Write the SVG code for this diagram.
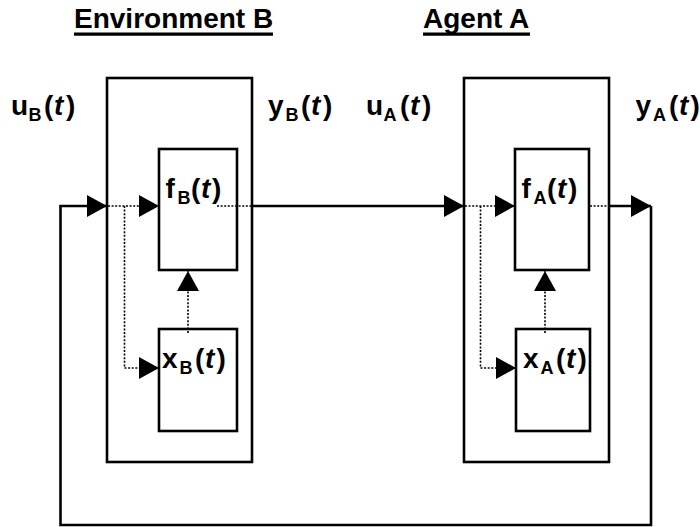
<svg xmlns="http://www.w3.org/2000/svg" width="700" height="527" viewBox="0 0 700 527">
  <style>
    .box { fill: none; stroke: #000; stroke-width: 2.6; }
    .solid { fill: none; stroke: #000; stroke-width: 2.6; }
    .dot { fill: none; stroke: #000; stroke-width: 1.6; stroke-dasharray: 2 1.6; }
    .title { font-family: "Liberation Sans", Arial, sans-serif; font-weight: bold; font-size: 28px; fill: #000; }
    .lbl { font-family: "Liberation Sans", Arial, sans-serif; font-weight: bold; font-size: 28px; fill: #000; }
    .sub { font-size: 18px; }
    .it { font-style: italic; }
  </style>
  <defs>
    <marker id="arrow" viewBox="0 0 20 22" markerWidth="20" markerHeight="22" refX="20" refY="11" markerUnits="userSpaceOnUse" orient="auto">
      <path d="M0,0 L20,11 L0,22 Z" fill="#000"/>
    </marker>
  </defs>
  <rect width="700" height="527" fill="#fff"/>

  <!-- titles -->
  <g id="title-env">
    <text class="title" x="74" y="28">Environment B</text>
    <line x1="74" y1="34.2" x2="273" y2="34.2" stroke="#000" stroke-width="3.2"/>
  </g>
  <g id="title-agent">
    <text class="title" x="423" y="28">Agent A</text>
    <line x1="423" y1="34.2" x2="530" y2="34.2" stroke="#000" stroke-width="3.2"/>
  </g>

  <!-- signal labels -->
  <g id="label-uB">
    <text class="lbl" x="11" y="115">u<tspan class="sub" x="28.5" dy="6">B</tspan><tspan x="44" dy="-6">(</tspan><tspan class="it" x="54">t</tspan><tspan x="66">)</tspan></text>
  </g>
  <g id="label-yB">
    <text class="lbl" x="268" y="115">y<tspan class="sub" x="285.5" dy="6">B</tspan><tspan x="301" dy="-6">(</tspan><tspan class="it" x="311">t</tspan><tspan x="323">)</tspan></text>
  </g>
  <g id="label-uA">
    <text class="lbl" x="366" y="115">u<tspan class="sub" x="383.5" dy="6">A</tspan><tspan x="400" dy="-6">(</tspan><tspan class="it" x="410">t</tspan><tspan x="422">)</tspan></text>
  </g>
  <g id="label-yA">
    <text class="lbl" x="635.5" y="115">y<tspan class="sub" x="653" dy="6">A</tspan><tspan x="669" dy="-6">(</tspan><tspan class="it" x="679">t</tspan><tspan x="690.5">)</tspan></text>
  </g>

  <!-- Environment B -->
  <g id="env-B">
    <rect class="box" x="107" y="78" width="145" height="384"/>
  </g>
  <g id="fB">
    <rect class="box" x="159" y="149" width="78" height="121"/>
    <text class="lbl" x="165.5" y="198">f<tspan class="sub" x="177.5" dy="6">B</tspan><tspan x="191" dy="-6">(</tspan><tspan class="it" x="201">t</tspan><tspan x="212">)</tspan></text>
  </g>
  <g id="xB">
    <rect class="box" x="159" y="329" width="78" height="102"/>
    <text class="lbl" x="162" y="368">x<tspan class="sub" x="179.5" dy="6">B</tspan><tspan x="195" dy="-6">(</tspan><tspan class="it" x="205">t</tspan><tspan x="216.5">)</tspan></text>
  </g>

  <!-- Agent A -->
  <g id="agent-A">
    <rect class="box" x="464" y="78" width="145" height="384"/>
  </g>
  <g id="fA">
    <rect class="box" x="515" y="149" width="74" height="121"/>
    <text class="lbl" x="521.5" y="198">f<tspan class="sub" x="533.5" dy="6">A</tspan><tspan x="547" dy="-6">(</tspan><tspan class="it" x="557">t</tspan><tspan x="568">)</tspan></text>
  </g>
  <g id="xA">
    <rect class="box" x="516" y="329" width="74" height="102"/>
    <text class="lbl" x="523" y="368">x<tspan class="sub" x="540.5" dy="6">A</tspan><tspan x="556" dy="-6">(</tspan><tspan class="it" x="566">t</tspan><tspan x="577.5">)</tspan></text>
  </g>

  <!-- connectors -->
  <g id="connectors">
    <!-- feedback loop from y_A back to u_B -->
    <path class="solid" d="M651,206 V525 H60.5 V206 H107" marker-end="url(#arrow)"/>
    <!-- y_B to u_A -->
    <line class="solid" x1="252" y1="206" x2="464" y2="206" marker-end="url(#arrow)"/>
    <!-- output of A -->
    <line class="solid" x1="609" y1="206" x2="651" y2="206" marker-end="url(#arrow)"/>

    <!-- internal signals of B -->
    <line class="dot" x1="108" y1="206" x2="159" y2="206" marker-end="url(#arrow)"/>
    <path class="dot" d="M124.5,206 V368 H159" marker-end="url(#arrow)"/>
    <line class="dot" x1="188" y1="333" x2="188" y2="271" marker-end="url(#arrow)"/>
    <line class="dot" x1="217" y1="206" x2="252" y2="206"/>

    <!-- internal signals of A -->
    <line class="dot" x1="465" y1="206" x2="515" y2="206" marker-end="url(#arrow)"/>
    <path class="dot" d="M480.5,206 V368 H516" marker-end="url(#arrow)"/>
    <line class="dot" x1="545" y1="333" x2="545" y2="271" marker-end="url(#arrow)"/>
    <line class="dot" x1="590" y1="206" x2="609" y2="206"/>
  </g>
</svg>
